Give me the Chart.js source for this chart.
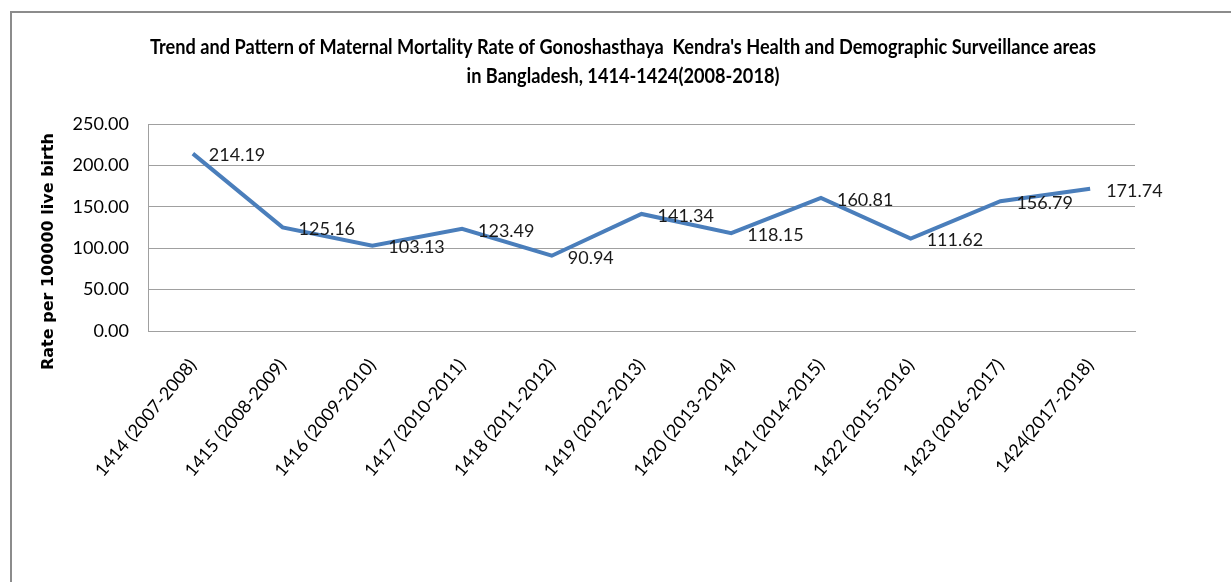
<!DOCTYPE html>
<html>
<head>
<meta charset="utf-8">
<script src="https://cdn.jsdelivr.net/npm/chart.js@4.4.1/dist/chart.umd.min.js"></script>
<style>
  html, body { margin: 0; padding: 0; background: #ffffff; }
  #wrap { position: relative; width: 1231px; height: 582px; }
  canvas { display: block; }
</style>
</head>
<body>
<div id="wrap"><canvas id="c" width="1231" height="582"></canvas></div>
<script>
// ---- data ----
const categories = [
  "1414 (2007-2008)", "1415 (2008-2009)", "1416 (2009-2010)", "1417 (2010-2011)",
  "1418 (2011-2012)", "1419 (2012-2013)", "1420 (2013-2014)", "1421 (2014-2015)",
  "1422 (2015-2016)", "1423 (2016-2017)", "1424(2017-2018)"
];
const mmrValues = [214.19, 125.16, 103.13, 123.49, 90.94, 141.34, 118.15, 160.81, 111.62, 156.79, 171.74];
const yTickValues = [0, 50, 100, 150, 200, 250];
const titleLines = [
  "Trend and Pattern of Maternal Mortality Rate of Gonoshasthaya  Kendra's Health and Demographic Surveillance areas",
  "in Bangladesh, 1414-1424(2008-2018)"
];
const yAxisTitle = "Rate per 100000 live birth";

// ---- plugins ----
const frameAndTitles = {
  id: 'frameAndTitles',
  beforeDraw(chart) {
    const ctx = chart.ctx;
    ctx.save();
    ctx.fillStyle = '#ffffff';
    ctx.fillRect(0, 0, chart.width, chart.height);
    ctx.strokeStyle = '#8c8c8c';
    ctx.lineWidth = 2;
    ctx.beginPath();
    ctx.moveTo(11, chart.height);
    ctx.lineTo(11, 12);
    ctx.lineTo(chart.width, 12);
    ctx.stroke();
    ctx.restore();
  },
  afterDraw(chart) {
    const ctx = chart.ctx;
    const a = chart.chartArea;
    // chart title
    ctx.save();
    ctx.font = 'bold 21px Lato, "Liberation Sans Narrow", sans-serif';
    ctx.fillStyle = '#000000';
    ctx.textAlign = 'center';
    ctx.textBaseline = 'middle';
    const w0 = ctx.measureText(titleLines[0]).width;
    const sx = 946 / w0;
    const cx = 623;
    titleLines.forEach((line, i) => {
      ctx.save();
      ctx.translate(cx, 47 + i * 29);
      ctx.scale(sx, 1);
      ctx.fillText(line, 0, 0);
      ctx.restore();
    });
    ctx.restore();
    // y axis title
    ctx.save();
    ctx.translate(a.left - 99, (a.top + a.bottom) / 2 + 24);
    ctx.rotate(-Math.PI / 2);
    ctx.font = 'bold 16px "DejaVu Sans"';
    ctx.fillStyle = '#000000';
    ctx.textAlign = 'center';
    ctx.textBaseline = 'middle';
    ctx.fillText(yAxisTitle, 0, 0);
    ctx.restore();
  }
};

const valueLabels = {
  id: 'valueLabels',
  afterDatasetsDraw(chart) {
    const ctx = chart.ctx;
    const meta = chart.getDatasetMeta(0);
    const data = chart.data.datasets[0].data;
    ctx.save();
    ctx.font = '18px Lato';
    ctx.fillStyle = '#1a1a1a';
    ctx.textAlign = 'left';
    ctx.textBaseline = 'middle';
    meta.data.forEach((pt, i) => {
      ctx.fillText(Number(data[i]).toFixed(2), pt.x + 16, pt.y + 2);
    });
    ctx.restore();
  }
};

new Chart(document.getElementById('c'), {
  type: 'line',
  data: {
    labels: categories,
    datasets: [{
      data: mmrValues,
      borderColor: '#4a7ebb',
      borderWidth: 4,
      pointRadius: 0,
      pointHoverRadius: 0,
      tension: 0,
      fill: false
    }]
  },
  options: {
    responsive: false,
    devicePixelRatio: 1,
    animation: false,
    layout: { padding: { left: 0, right: 96, top: 124, bottom: 0 } },
    plugins: {
      legend: { display: false },
      tooltip: { enabled: false },
      title: { display: false }
    },
    scales: {
      x: {
        offset: true,
        grid: { display: false, drawTicks: false },
        border: { display: true, color: '#a0a0a0', width: 1 },
        ticks: {
          autoSkip: false,
          minRotation: 50,
          maxRotation: 50,
          padding: 24,
          color: '#000000',
          font: { family: 'Lato', size: 18 }
        },
        afterFit(scale) { scale.height = 251; }
      },
      y: {
        min: 0,
        max: 250,
        afterBuildTicks(scale) { scale.ticks = yTickValues.map(v => ({ value: v })); },
        grid: { color: '#a0a0a0', lineWidth: 1, drawTicks: false },
        border: { display: true, color: '#a0a0a0', width: 1 },
        ticks: {
          padding: 19,
          color: '#000000',
          font: { family: 'Lato', size: 18 },
          callback: (v) => Number(v).toFixed(2)
        },
        afterFit(scale) { scale.width = 148; }
      }
    }
  },
  plugins: [frameAndTitles, valueLabels]
});
</script>
</body>
</html>
